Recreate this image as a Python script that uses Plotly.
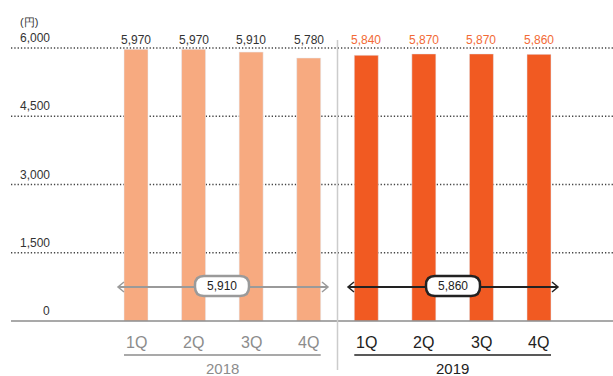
import plotly.graph_objects as go

quarters = ["1Q", "2Q", "3Q", "4Q"]
years = ["2018", "2019"]
values_2018 = [5970, 5970, 5910, 5780]
values_2019 = [5840, 5870, 5870, 5860]
avg_2018 = 5910
avg_2019 = 5860
yticks = [0, 1500, 3000, 4500, 6000]
unit = "(円)"

W, H = 613, 376
# pixel mapping helpers (for decoration sizing)
x0_px, dx_px = 136.0, 57.57
y0_px, ppu = 321.0, 0.0455
xr = [-(x0_px - 0) / dx_px, (W - x0_px) / dx_px]
yr = [-(H - y0_px) / ppu, y0_px / ppu]

def px_x(p):
    return (p - x0_px) / dx_px

def px_y(p):
    return (y0_px - p) / ppu

c18 = "#F7AA80"
c19 = "#F15A22"
grey = "#8C8C8C"
dark = "#222222"
font = "Liberation Sans, Arial, sans-serif"

x18 = list(range(4))
x19 = list(range(4, 8))

fig = go.Figure()
fig.add_bar(x=x18, y=values_2018, marker_color=c18, width=24 / dx_px, hoverinfo="skip")
fig.add_bar(x=x19, y=values_2019, marker_color=c19, width=24 / dx_px, hoverinfo="skip")

shapes = []
annotations = []
# bar value labels (aligned in one row above the 6,000 line)
for xs, vals, col in [(x18, values_2018, "#333333"), (x19, values_2019, "#F26A36")]:
    for xi, v in zip(xs, vals):
        annotations.append(dict(x=xi, y=px_y(40), xref="x", yref="y", text=f"{v:,}", showarrow=False,
                                yanchor="middle", font=dict(size=12, color=col, family=font)))
# gridlines
for t in yticks[1:]:
    shapes.append(dict(type="line", xref="x", yref="y", x0=px_x(11), x1=px_x(613), y0=t, y1=t,
                       line=dict(color="#444444", width=1.3, dash="1.3px,2px"), layer="below"))
    annotations.append(dict(x=px_x(18), y=t, xref="x", yref="y", text=f"{t:,}", showarrow=False,
                            xanchor="left", yanchor="bottom", yshift=1,
                            font=dict(size=12, color="#333333", family=font)))
annotations.append(dict(x=px_x(46), y=px_y(311), xref="x", yref="y", text="0", showarrow=False,
                        xanchor="center", yanchor="middle", font=dict(size=12, color="#333333", family=font)))
annotations.append(dict(x=px_x(18), y=px_y(22), xref="x", yref="y", text=unit, showarrow=False,
                        xanchor="left", yanchor="middle", font=dict(size=11, color="#333333", family=font)))
# baseline axis
shapes.append(dict(type="line", xref="x", yref="y", x0=px_x(11), x1=px_x(613), y0=0, y1=0,
                   line=dict(color=grey, width=1.5), layer="above"))
# separator
shapes.append(dict(type="line", xref="x", yref="y", x0=3.5, x1=3.5, y0=px_y(40), y1=px_y(370),
                   line=dict(color="#CCCCCC", width=1.5)))

# quarter labels, group underline, year label
for xs, col, yr_lbl in [(x18, grey, years[0]), (x19, dark, years[1])]:
    for xi, q in zip(xs, quarters):
        annotations.append(dict(x=xi, y=px_y(342), xref="x", yref="y", text=q, showarrow=False,
                                font=dict(size=16, color=col, family=font)))
    shapes.append(dict(type="line", xref="x", yref="y", x0=xs[0] - 12 / dx_px, x1=xs[-1] + 12 / dx_px,
                       y0=px_y(355), y1=px_y(355), line=dict(color=col, width=1.5)))
    annotations.append(dict(x=(xs[0] + xs[-1]) / 2, y=px_y(368), xref="x", yref="y", text=yr_lbl,
                            showarrow=False, font=dict(size=15, color=col, family=font)))

# average range arrows with rounded label boxes
def rounded_rect(cx_px, cy_px, w, h, r):
    L, R, T, B = cx_px - w / 2, cx_px + w / 2, cy_px - h / 2, cy_px + h / 2
    pts = (f"M {px_x(L + r)},{px_y(T)} L {px_x(R - r)},{px_y(T)} "
           f"Q {px_x(R)},{px_y(T)} {px_x(R)},{px_y(T + r)} L {px_x(R)},{px_y(B - r)} "
           f"Q {px_x(R)},{px_y(B)} {px_x(R - r)},{px_y(B)} L {px_x(L + r)},{px_y(B)} "
           f"Q {px_x(L)},{px_y(B)} {px_x(L)},{px_y(B - r)} L {px_x(L)},{px_y(T + r)} "
           f"Q {px_x(L)},{px_y(T)} {px_x(L + r)},{px_y(T)} Z")
    return pts

for (xa, xb, cx, col, avg) in [(118, 328, 222, "#9A9A9A", avg_2018), (348, 558, 453, dark, avg_2019)]:
    ya = px_y(287)
    shapes.append(dict(type="line", xref="x", yref="y", x0=px_x(xa + 1), x1=px_x(xb - 1), y0=ya, y1=ya,
                       line=dict(color=col, width=2)))
    for tip, d in [(xa, 1), (xb, -1)]:
        shapes.append(dict(type="path", xref="x", yref="y",
                           path=f"M {px_x(tip + d * 6)},{px_y(282)} L {px_x(tip)},{px_y(287)} L {px_x(tip + d * 6)},{px_y(292)}",
                           line=dict(color=col, width=1.5)))
    shapes.append(dict(type="path", xref="x", yref="y", path=rounded_rect(cx, 286, 54, 20, 9),
                       fillcolor="white", line=dict(color=col, width=2.5)))
    annotations.append(dict(x=px_x(cx), y=px_y(286), xref="x", yref="y", text=f"{avg:,}", showarrow=False,
                            font=dict(size=12, color="#222222", family=font)))

fig.update_layout(
    width=W, height=H, margin=dict(l=0, r=0, t=0, b=0),
    paper_bgcolor="white", plot_bgcolor="white", showlegend=False, barmode="overlay",
    xaxis=dict(range=xr, visible=False, fixedrange=True),
    yaxis=dict(range=yr, visible=False, fixedrange=True),
    shapes=shapes, annotations=annotations, font=dict(family=font),
)
fig.write_html("out.html")
